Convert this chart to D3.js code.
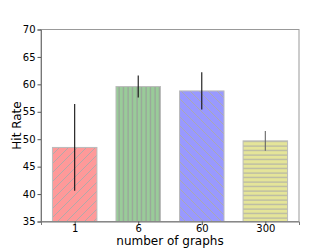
<!DOCTYPE html>
<html><head><meta charset="utf-8">
<script src="https://cdn.jsdelivr.net/npm/d3@7"></script>
<style>body{margin:0;background:#fff}svg{display:block}text{font-family:"DejaVu Sans",sans-serif}</style>
</head><body><svg id="c" width="332" height="249"></svg>
<script>
const categories = ["1","6","60","300"];
const values = [48.5, 59.6, 58.8, 49.7];
const errors = [7.9, 2.0, 3.4, 1.8];
const colors = ["#ff9999","#99cc99","#9999ff","#e5e599"];
const hatches = ["/","|","\\","-"];
const yTicks = [35,40,45,50,55,60,65,70];

const svg = d3.select("#c");
const L=41, R=299, T=29.5, B=221.5;
const y = d3.scaleLinear().domain([35,70]).range([B,T]);
const xi = d3.scaleLinear().domain([-0.53,3.53]).range([L,R]);
const bw = xi(0.7)-xi(0);

const defs = svg.append("defs");
hatches.forEach((h,i)=>{
  let p;
  if(h==="|"){
    p = defs.append("pattern").attr("id","h"+i).attr("patternUnits","userSpaceOnUse").attr("width",4.5).attr("height",4.5);
    p.append("rect").attr("width",4.5).attr("height",4.5).attr("fill",colors[i]);
    p.append("line").attr("x1",2).attr("x2",2).attr("y1",0).attr("y2",4.5).attr("stroke","#999").attr("stroke-width",1);
  } else if(h==="-"){
    p = defs.append("pattern").attr("id","h"+i).attr("patternUnits","userSpaceOnUse").attr("width",4.5).attr("height",4.5);
    p.append("rect").attr("width",4.5).attr("height",4.5).attr("fill",colors[i]);
    p.append("line").attr("y1",2).attr("y2",2).attr("x1",0).attr("x2",4.5).attr("stroke","#aaa").attr("stroke-width",1);
  } else {
    const s=9;
    p = defs.append("pattern").attr("id","h"+i).attr("patternUnits","userSpaceOnUse").attr("width",s).attr("height",s);
    p.append("rect").attr("width",s).attr("height",s).attr("fill",colors[i]);
    if(h==="/"){
      p.append("path").attr("d",`M0,${s} L${s},0 M-2,2 L2,-2 M${s-2},${s+2} L${s+2},${s-2}`).attr("stroke","#aaa").attr("stroke-width",0.9);
    } else {
      p.append("path").attr("d",`M0,0 L${s},${s} M-2,${s-2} L2,${s+2} M${s-2},-2 L${s+2},2`).attr("stroke","#aaa").attr("stroke-width",0.9);
    }
  }
});

svg.selectAll("rect.bar").data(values).join("rect").attr("class","bar")
  .attr("x",(d,i)=>xi(i)-bw/2).attr("width",bw)
  .attr("y",d=>y(d)).attr("height",d=>B-y(d))
  .attr("fill",(d,i)=>`url(#h${i})`).attr("stroke","#bbb").attr("stroke-width",1);

svg.selectAll("line.err").data(values).join("line").attr("class","err")
  .attr("x1",(d,i)=>xi(i)).attr("x2",(d,i)=>xi(i))
  .attr("y1",(d,i)=>y(d+errors[i])).attr("y2",(d,i)=>y(d-errors[i]))
  .attr("stroke",(d,i)=>i===3?"#666":"#111").attr("stroke-width",1.1);

// frame
svg.append("rect").attr("x",L).attr("y",T).attr("width",R-L).attr("height",B-T)
  .attr("fill","none").attr("stroke","#999").attr("stroke-width",1);

const ya = svg.append("g").attr("transform",`translate(${L},0)`)
  .call(d3.axisLeft(y).tickValues(yTicks).tickSize(3.5).tickPadding(2));
ya.select(".domain").attr("stroke","#777");
ya.selectAll(".tick line").attr("stroke","#555");
ya.selectAll("text").attr("font-size",10).attr("fill","#000").attr("font-family","DejaVu Sans");

const xa = svg.append("g").attr("transform",`translate(0,${B})`)
  .call(d3.axisBottom(xi).tickValues([0,1,2,3]).tickFormat(i=>categories[i]).tickSize(3.5).tickPadding(2));
xa.select(".domain").attr("stroke","#777");
xa.selectAll(".tick line").attr("stroke","#555");
xa.selectAll("text").attr("font-size",10).attr("fill","#000").attr("font-family","DejaVu Sans")
  .attr("y",10).attr("dy",null);

svg.append("text").attr("x",(L+R)/2).attr("y",244.5).attr("text-anchor","middle").attr("font-size",12).text("number of graphs");
svg.append("text").attr("transform",`translate(21,${(T+B)/2}) rotate(-90)`).attr("text-anchor","middle").attr("font-size",12).text("Hit Rate");
</script></body></html>
